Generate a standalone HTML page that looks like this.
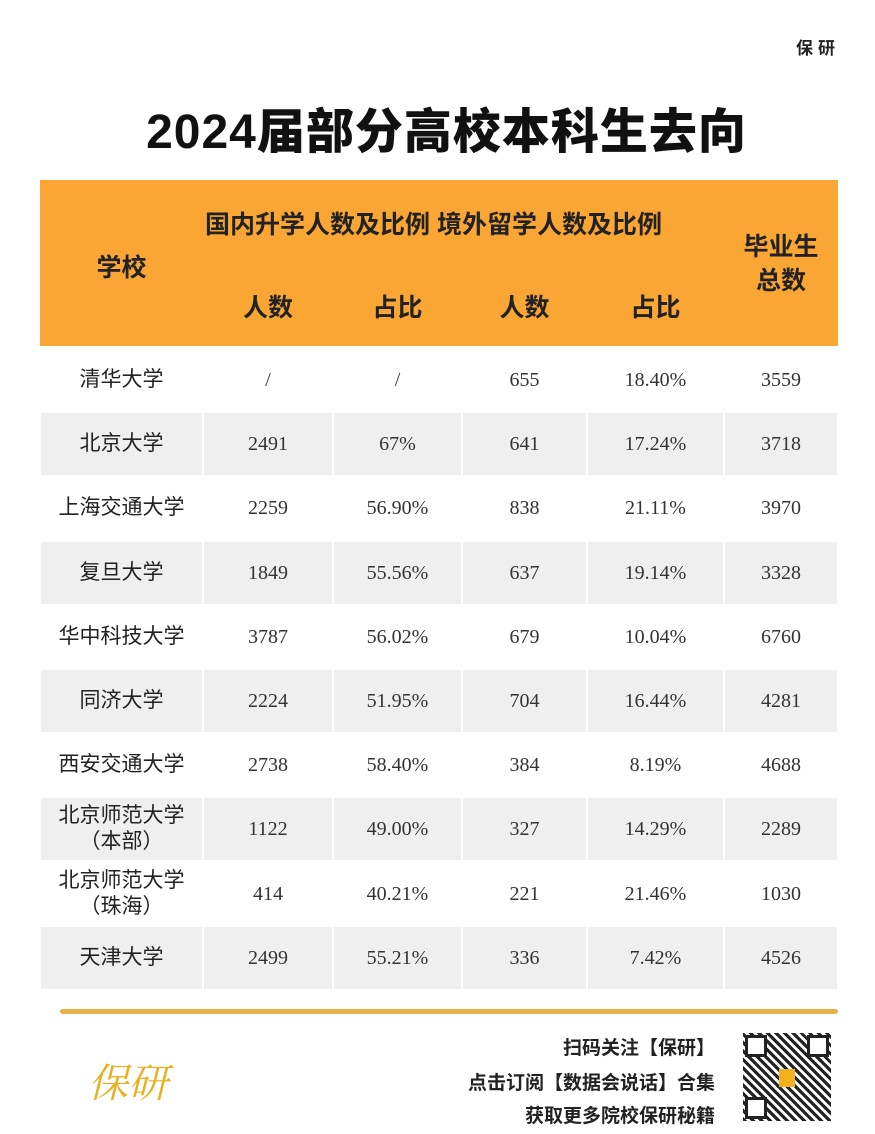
<!DOCTYPE html>
<html><head><meta charset="utf-8"><style>
body{margin:0;width:875px;height:1134px;background:#fff;position:relative;overflow:hidden;font-family:"Liberation Sans","Noto Sans CJK SC",sans-serif;}
.a{position:absolute;}
.title{left:0;width:893px;top:92px;text-align:center;font-size:48px;font-weight:900;color:#111;letter-spacing:1px;}
.hdr{left:40px;top:180px;width:798px;height:166px;background:#f9a634;}
.h{position:absolute;font-size:25px;font-weight:bold;color:#222;text-align:center;}
.row{position:absolute;left:40px;width:798px;height:64px;}
.g .c{background:#efefef;}
.c{position:absolute;top:0;height:62px;line-height:62px;text-align:center;font-family:"Liberation Serif","Noto Serif CJK SC",serif;font-size:20px;color:#333;}
.c.s{font-family:"Liberation Sans","Noto Sans CJK SC",sans-serif;font-size:21px;color:#222;}
.two{line-height:26px;padding-top:5px;height:57px;}
.foot{font-size:19px;font-weight:bold;color:#222;text-align:right;right:160px;}
</style></head><body>
<div class="a" style="right:35px;top:34px;font-size:17px;font-weight:bold;color:#222;letter-spacing:5px">保研</div>
<div class="a title">2024届部分高校本科生去向</div>
<div class="a hdr">
<div class="h" style="left:0;width:163px;top:68px">学校</div>
<div class="h" style="left:165px;width:560px;top:25px;text-align:left">国内升学人数及比例 境外留学人数及比例</div>
<div class="h" style="left:163px;width:130px;top:108px">人数</div>
<div class="h" style="left:293px;width:129px;top:108px">占比</div>
<div class="h" style="left:422px;width:125px;top:108px">人数</div>
<div class="h" style="left:547px;width:137px;top:108px">占比</div>
<div class="h" style="left:684px;width:114px;top:50px;line-height:34px">毕业生<br>总数</div>
</div>
<div id="t"></div>
<script>
var d=[["清华大学","/","/","655","18.40%","3559"],["北京大学","2491","67%","641","17.24%","3718"],["上海交通大学","2259","56.90%","838","21.11%","3970"],["复旦大学","1849","55.56%","637","19.14%","3328"],["华中科技大学","3787","56.02%","679","10.04%","6760"],["同济大学","2224","51.95%","704","16.44%","4281"],["西安交通大学","2738","58.40%","384","8.19%","4688"],["北京师范大学<br>（本部）","1122","49.00%","327","14.29%","2289"],["北京师范大学<br>（珠海）","414","40.21%","221","21.46%","1030"],["天津大学","2499","55.21%","336","7.42%","4526"]];
var x=[0,163,293,422,547,684,798],h="";
d.forEach(function(r,i){var top=349+i*64.2;h+='<div class="row'+(i%2?' g':'')+'" style="top:'+top+'px">';
r.forEach(function(v,j){h+='<div class="c'+(j==0?' s':'')+(v.indexOf('<br>')>0?' two':'')+'" style="left:'+(x[j]+1)+'px;width:'+(x[j+1]-x[j]-2)+'px">'+v+'</div>';});h+='</div>';});
document.getElementById('t').innerHTML=h;
</script>
<div class="a" style="left:60px;top:1009px;width:778px;height:5px;background:#e8b04a;border-radius:3px"></div>
<div class="a" style="left:88px;top:1052px;font-size:40px;font-style:italic;color:#e8b020;font-family:'Noto Serif CJK SC',serif">保研</div>
<div class="a foot" style="top:1033px">扫码关注【保研】</div>
<div class="a foot" style="top:1068px">点击订阅【数据会说话】合集</div>
<div class="a foot" style="top:1101px">获取更多院校保研秘籍</div>
<div class="a" style="left:743px;top:1033px;width:88px;height:88px;background:repeating-linear-gradient(45deg,#222 0 3px,#fff 3px 6px),#222;">
<div class="a" style="left:2px;top:2px;width:16px;height:16px;border:3px solid #222;background:#fff"></div>
<div class="a" style="right:2px;top:2px;width:16px;height:16px;border:3px solid #222;background:#fff"></div>
<div class="a" style="left:2px;bottom:2px;width:16px;height:16px;border:3px solid #222;background:#fff"></div>
<div class="a" style="left:36px;top:36px;width:16px;height:18px;background:#f5b020"></div>
</div>
</body></html>
